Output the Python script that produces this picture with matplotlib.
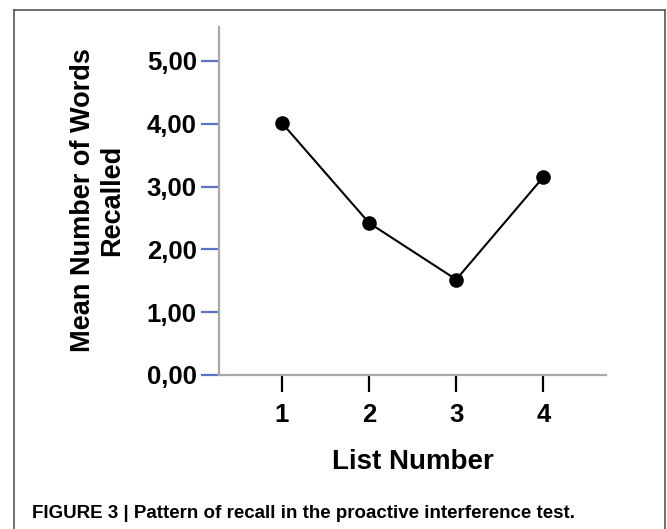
import numpy as np
import matplotlib
matplotlib.use("Agg")
import matplotlib.pyplot as plt
from matplotlib.lines import Line2D

plt.rcParams['font.family'] = ['Liberation Sans', 'DejaVu Sans']

# data
list_number = [1, 2, 3, 4]
mean_recalled = [4.01, 2.42, 1.52, 3.15]
y_ticks = [0, 1, 2, 3, 4, 5]
y_ticklabels = ['0,00', '1,00', '2,00', '3,00', '4,00', '5,00']

W, H = 667, 529
fig = plt.figure(figsize=(W / 100, H / 100), dpi=100)

def fx(px):
    return px / W

def fy(py):
    return 1 - py / H

ax = fig.add_axes([fx(219), fy(375), fx(606) - fx(219), fy(27) - fy(375)])
ax.plot(list_number, mean_recalled, color='black', lw=1.5, marker='o',
        markersize=9.5, markerfacecolor='black', markeredgecolor='black',
        clip_on=False, zorder=3)

ax.set_xlim(0.276, 4.72)
ax.set_ylim(0, 5.54)
ax.set_xticks(list_number)
ax.set_xticklabels([str(v) for v in list_number])
ax.set_yticks(y_ticks)
ax.set_yticklabels(y_ticklabels)

for s in ['top', 'right']:
    ax.spines[s].set_visible(False)
for s in ['left', 'bottom']:
    ax.spines[s].set_color('#a8a8a8')
    ax.spines[s].set_linewidth(1.6)

ax.tick_params(axis='y', direction='out', length=13, width=1.6,
               color='#5a73c8', pad=3, labelsize=18.5)
ax.tick_params(axis='x', direction='out', length=12, width=1.6,
               color='black', pad=8, labelsize=18.5)
for lab in ax.get_xticklabels() + ax.get_yticklabels():
    lab.set_fontweight('bold')

fig.text(fx(98), fy(200), 'Mean Number of Words\nRecalled', rotation=90,
         ha='center', va='center', fontsize=19.5, fontweight='bold',
         linespacing=1.15)
fig.text(fx(413), fy(462), 'List Number', ha='center', va='center',
         fontsize=20, fontweight='bold')

fig.text(fx(32), fy(513), 'FIGURE 3 | Pattern of recall in the proactive interference test.',
         ha='left', va='center', fontsize=13.5, fontweight='bold',
         family=['Liberation Sans Narrow', 'Liberation Sans'])

# frame around the panel (open at the bottom)
bc = '#555555'
fig.add_artist(Line2D([fx(14), fx(14)], [0, fy(10)], color=bc, lw=1.2))
fig.add_artist(Line2D([fx(14), fx(665)], [fy(10), fy(10)], color=bc, lw=1.2))
fig.add_artist(Line2D([fx(665), fx(665)], [fy(10), 0], color=bc, lw=1.2))

fig.savefig('out.png', dpi=100)
